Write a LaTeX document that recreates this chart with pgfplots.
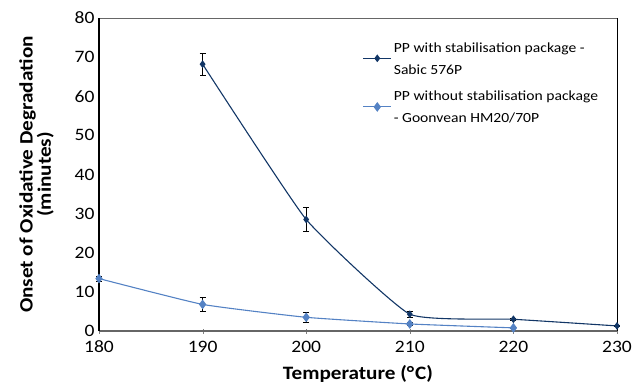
\documentclass[border=0pt]{standalone}
\usepackage{pgfplots}
\pgfplotsset{compat=1.18}
\usepackage{fontspec}
\setmainfont{Carlito}[FakeStretch=1.12]
\definecolor{darkb}{RGB}{18,54,102}
\definecolor{lightb}{RGB}{84,130,196}
\begin{document}
\begin{tikzpicture}
\begin{axis}[
  name=ax,
  scale only axis,
  width=518bp, height=313bp,
  xmin=180, xmax=230, ymin=0, ymax=80,
  xtick={180,190,...,230}, ytick={0,10,...,80},
  /pgf/number format/assume math mode=true,
  /pgf/number format/1000 sep={},
  tick label style={font=\fontsize{17.5}{20}\selectfont},
  xticklabel style={yshift=-4bp},
  yticklabel style={xshift=-1bp},
  xtick pos=bottom, ytick pos=left,
  xtick align=center,
  major tick length=5bp,
  ytick style={draw=none},
  axis line style={draw=none},
  xlabel={\textbf{Temperature (°\kern1pt C)}},
  ylabel={\textbf{Onset of Oxidative Degradation}\\\textbf{(minutes)}},
  ylabel style={align=center, font=\fontsize{19}{18.5}\selectfont, yshift=14bp},
  xlabel style={font=\fontsize{19}{21}\selectfont, yshift=-6bp},
  clip=false,
  legend style={draw=none, fill=none, at={(0.503,0.935)}, anchor=north west,
    font=\fontsize{14}{22}\selectfont, nodes={align=left, text depth=0pt}, row sep=13bp},
  legend cell align=left,
  legend image code/.code={
    \draw[mark repeat=2,mark phase=2,#1] plot coordinates {(0bp,0bp) (14bp,0bp) (28bp,0bp)};
  },
]
\draw[black!60, line width=1.2pt] (rel axis cs:0,0) -- (rel axis cs:1,0);
\draw[black!60, line width=0.8pt] (rel axis cs:0,1) -- (rel axis cs:1,1);
\draw[black, line width=1.5pt] (rel axis cs:0,0) -- (rel axis cs:0,1);
\draw[black, line width=0.6pt] (rel axis cs:1,0) -- (rel axis cs:1,1);
\addplot[darkb, line width=1.1pt, smooth, tension=0.25, mark=diamond*, mark size=3pt,
  error bars/.cd, y dir=both, y explicit, error bar style={black, line width=0.8pt},
  error mark options={black, rotate=90, mark size=3pt, line width=0.8pt}]
  coordinates {
  (190,68.2) +- (0,2.8)
  (200,28.5) +- (0,3.0)
  (210,4.3) +- (0,0.8)
  (220,3.0) +- (0,0.3)
  (230,1.3) +- (0,0.2)
  };
\addlegendentry{PP with stabilisation package -\\Sabic 576P}
\addplot[lightb, line width=1.1pt, smooth, tension=0.25, mark=diamond*, mark size=4pt,
  error bars/.cd, y dir=both, y explicit, error bar style={black, line width=0.8pt},
  error mark options={black, rotate=90, mark size=3pt, line width=0.8pt}]
  coordinates {
  (180,13.4) +- (0,0.6)
  (190,6.8) +- (0,1.9)
  (200,3.5) +- (0,1.3)
  (210,1.8) +- (0,0.4)
  (220,0.8) +- (0,0.2)
  };
\addlegendentry{PP without stabilisation package\\- Goonvean HM20/70P}
\end{axis}
\path ([shift={(-99bp,-56bp)}]ax.south west) rectangle ([shift={(24bp,18bp)}]ax.north east);
\end{tikzpicture}
\end{document}
